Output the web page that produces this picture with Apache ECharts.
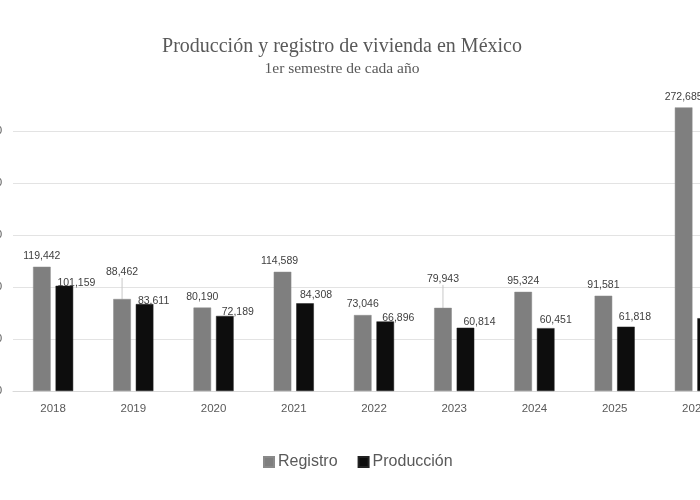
<!DOCTYPE html>
<html>
<head>
<meta charset="utf-8">
<script src="https://cdn.jsdelivr.net/npm/echarts@6/dist/echarts.min.js"></script>
<style>html,body{margin:0;padding:0;background:#fff}#c{width:700px;height:500px}</style>
</head>
<body>
<div id="c"></div>
<script>
const categories = ['2018','2019','2020','2021','2022','2023','2024','2025','2026'];
const registro = [119442, 88462, 80190, 114589, 73046, 79943, 95324, 91581, 272685];
const produccion = [101159, 83611, 72189, 84308, 66896, 60814, 60451, 61818, 70000];

// label nudges (style only)
const regLabelShift = [[0,0],[0,-16],[0,0],[-3,0],[0,0],[0,-18],[0,0],[0,0],[0,0]];
const regLeader = [false,true,false,false,false,true,false,false,false];
const prodLabelShift = [[12,8],[9,8],[13,7],[11,2],[13,7],[14,5],[10,2],[9,1],[24,4]];

const fmt = v => v.toLocaleString('en-US');
const chart = echarts.init(document.getElementById('c'), null, {renderer:'canvas'});

chart.setOption({
  animation: false,
  backgroundColor: '#ffffff',
  title: {
    text: 'Producción y registro de vivienda en México',
    subtext: '1er semestre de cada año',
    left: 337, top: 32, textAlign: 'center', itemGap: 4,
    textStyle: {fontFamily: 'Liberation Serif', fontSize: 20, fontWeight: 'normal', color: '#595959'},
    subtextStyle: {fontFamily: 'Liberation Serif', fontSize: 15.5, color: '#595959'}
  },
  legend: {
    left: 258, top: 449, itemWidth: 10, itemHeight: 10, itemGap: 20,
    icon: 'rect',
    textStyle: {fontFamily: 'Liberation Sans', fontSize: 16, color: '#595959', padding: [0,0,0,-1]},
    data: ['Registro','Producción']
  },
  grid: {left: 13, top: 79, width: 722, height: 312, containLabel: false, outerBoundsMode: 'none'},
  xAxis: {
    type: 'category', data: categories,
    axisLine: {lineStyle: {color: '#d9d9d9'}},
    axisTick: {show: false},
    axisLabel: {fontFamily: 'Liberation Sans', fontSize: 11.5, color: '#595959', margin: 12}
  },
  yAxis: {
    type: 'value', min: 0, max: 300000, interval: 50000,
    axisLabel: {fontFamily: 'Liberation Sans', fontSize: 11, color: '#595959', margin: 11, showMaxLabel: false, formatter: v => fmt(v)},
    axisLine: {show: false}, axisTick: {show: false},
    splitLine: {showMaxLine: false, lineStyle: {color: '#e3e3e3', width: 1}}
  },
  series: [
    {
      name: 'Registro', type: 'bar', barGap: '28%', barCategoryGap: '50%',
      itemStyle: {color: '#7f7f7f', borderColor: '#8a8a8a', borderWidth: 0.5},
      label: {show: true, position: 'top', distance: 5, fontFamily: 'Liberation Sans', fontSize: 10.5, color: '#404040', formatter: p => fmt(p.value)},
      labelLine: {show: false, lineStyle: {color: '#c8c8c8', width: 1}},
      labelLayout: p => ({dx: regLabelShift[p.dataIndex][0], dy: regLabelShift[p.dataIndex][1]}),
      data: registro.map((v, i) => regLeader[i] ? {value: v, labelLine: {show: true, lineStyle: {color: '#c8c8c8', width: 1}}} : v)
    },
    {
      name: 'Producción', type: 'bar',
      itemStyle: {color: '#0d0d0d', borderColor: '#222', borderWidth: 0.5},
      label: {show: true, position: 'top', distance: 5, fontFamily: 'Liberation Sans', fontSize: 10.5, color: '#404040', formatter: p => fmt(p.value)},
      labelLayout: p => ({dx: prodLabelShift[p.dataIndex][0], dy: prodLabelShift[p.dataIndex][1]}),
      data: produccion
    }
  ]
});
</script>
</body>
</html>
